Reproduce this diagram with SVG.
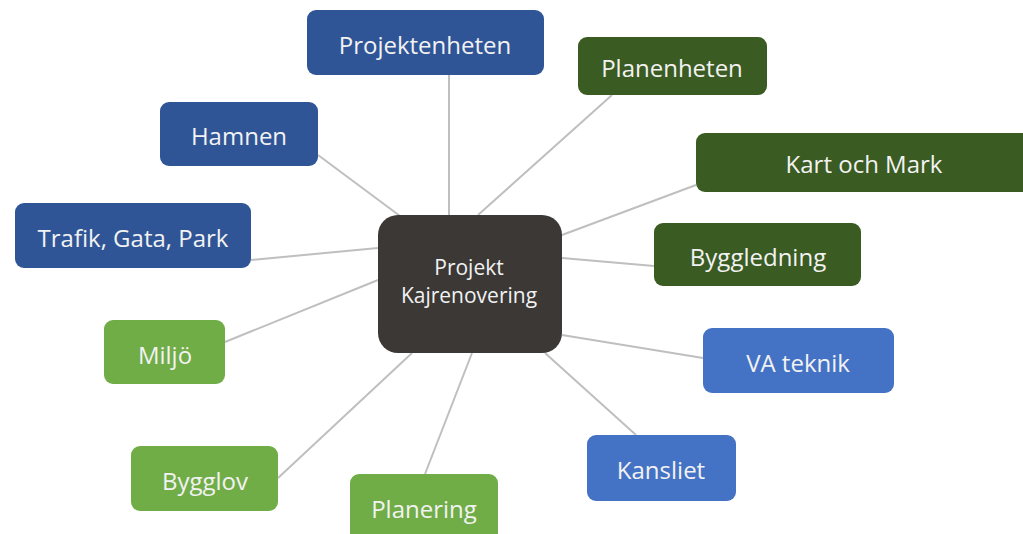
<svg xmlns="http://www.w3.org/2000/svg" width="1023" height="534" viewBox="0 0 1023 534">
<style>
.c{stroke:#bfbfbf;stroke-width:2;fill:none}
.n text{font-family:"Open Sans","Noto Sans",sans-serif;font-size:24px;fill:#f2f2f2;text-anchor:middle;dominant-baseline:central}
.n text.m{font-size:21px}
.b1{fill:#2f5597}.g1{fill:#3a5b22}.b2{fill:#4472c4}.g2{fill:#70ad47}.d{fill:#3b3836}
</style>
<rect width="1023" height="534" fill="#ffffff"/>
<g id="connectors">
<line class="c" x1="449" y1="75" x2="449" y2="215"/>
<line class="c" x1="612" y1="95" x2="478" y2="215"/>
<line class="c" x1="318" y1="155" x2="400" y2="216"/>
<line class="c" x1="696" y1="185" x2="562" y2="235"/>
<line class="c" x1="251" y1="260" x2="378" y2="248"/>
<line class="c" x1="654" y1="266" x2="562" y2="258"/>
<line class="c" x1="225" y1="342" x2="378" y2="280"/>
<line class="c" x1="703" y1="358" x2="562" y2="335"/>
<line class="c" x1="278" y1="478" x2="412" y2="353"/>
<line class="c" x1="636" y1="435" x2="545" y2="353"/>
<line class="c" x1="425" y1="474" x2="472" y2="353"/>
</g>
<g id="center" class="n"><rect class="d" x="378" y="215" width="184" height="138" rx="20"/><text class="m" x="469" y="267">Projekt</text><text class="m" x="469" y="295">Kajrenovering</text></g>
<g id="projektenheten" class="n"><rect class="b1" x="307" y="10" width="237" height="65" rx="9"/><text x="425" y="44">Projektenheten</text></g>
<g id="planenheten" class="n"><rect class="g1" x="578" y="37" width="189" height="58" rx="9"/><text x="672" y="67">Planenheten</text></g>
<g id="hamnen" class="n"><rect class="b1" x="160" y="102" width="158" height="64" rx="9"/><text x="239" y="135">Hamnen</text></g>
<g id="kartochmark" class="n"><rect class="g1" x="696" y="133" width="335" height="59" rx="9"/><text x="864" y="163">Kart och Mark</text></g>
<g id="trafik" class="n"><rect class="b1" x="15" y="203" width="236" height="65" rx="9"/><text x="133" y="237">Trafik, Gata, Park</text></g>
<g id="byggledning" class="n"><rect class="g1" x="654" y="223" width="207" height="63" rx="9"/><text x="758" y="256">Byggledning</text></g>
<g id="miljo" class="n"><rect class="g2" x="104" y="320" width="121" height="64" rx="9"/><text x="165" y="354">Miljö</text></g>
<g id="vateknik" class="n"><rect class="b2" x="703" y="328" width="191" height="65" rx="9"/><text x="798" y="362">VA teknik</text></g>
<g id="bygglov" class="n"><rect class="g2" x="131" y="446" width="147" height="65" rx="9"/><text x="205" y="480">Bygglov</text></g>
<g id="kansliet" class="n"><rect class="b2" x="587" y="435" width="149" height="66" rx="9"/><text x="661" y="469">Kansliet</text></g>
<g id="planering" class="n"><rect class="g2" x="350" y="474" width="148" height="70" rx="9"/><text x="424" y="508">Planering</text></g>
</svg>
